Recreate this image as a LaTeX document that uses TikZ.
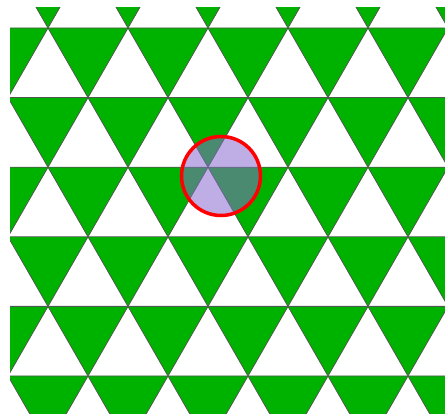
\documentclass[tikz,border=0pt]{standalone}
\usetikzlibrary{calc}
\definecolor{tgreen}{RGB}{0,178,0}
\definecolor{tedge}{RGB}{80,90,80}
\definecolor{lav}{RGB}{137,105,207}
\tikzset{
  downtri/.style={fill=tgreen, draw=tedge, line width=0.8pt, line join=round},
  marker/.style={fill=lav, fill opacity=0.54, draw=red, line width=3.5pt}
}
\begin{document}
\begin{tikzpicture}[x=1pt,y=-1pt]
\useasboundingbox (0,0) rectangle (445,414);
\begin{scope}
\clip (10,8) rectangle (445,414);
\foreach \r in {-1,...,6}{
  \pgfmathsetmacro{\yy}{28+69.6*\r}
  \pgfmathtruncatemacro{\rowpar}{mod(\r+2,2)}
  \pgfmathsetmacro{\xo}{\rowpar==0 ? -112 : -72}
  \foreach \k in {0,...,7}{
    \pgfmathsetmacro{\xa}{\xo+80*\k}
    \draw[downtri] (\xa,\yy) -- ++(80,0) -- ++(-40,69.6) -- cycle;
  }
}
\end{scope}
\draw[marker] (221,176) circle[radius=39.5];
\end{tikzpicture}
\end{document}
